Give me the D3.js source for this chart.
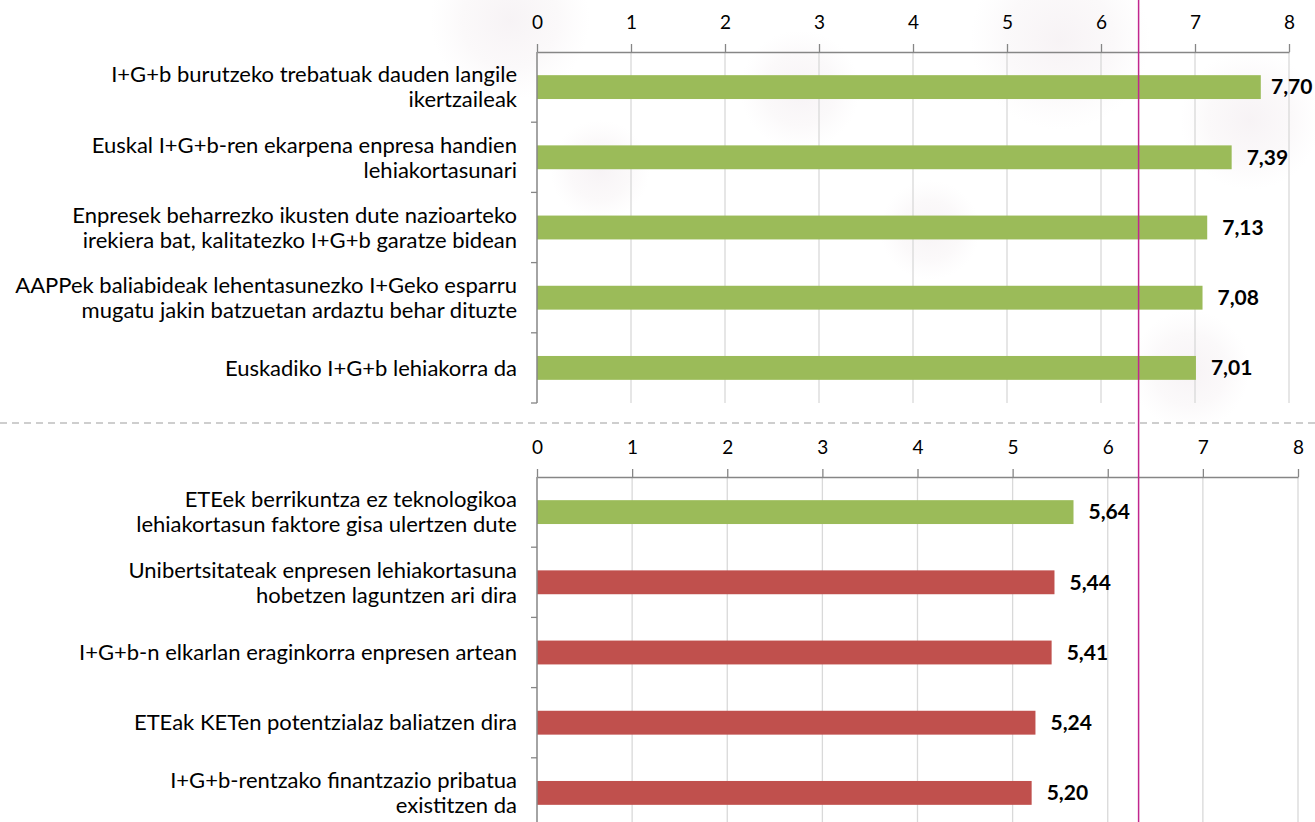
<!DOCTYPE html>
<html><head><meta charset="utf-8">
<script src="https://cdn.jsdelivr.net/npm/d3@7/dist/d3.min.js"></script>
<style>
html,body{margin:0;padding:0;background:#fff;}
svg{display:block;}
text{font-family:Lato,"Open Sans",sans-serif;}
</style></head>
<body><svg id="c" width="1315" height="822"></svg>
<script>
const ticks = [0,1,2,3,4,5,6,7,8];
const topCategories = [
  "I+G+b burutzeko trebatuak dauden langile\nikertzaileak",
  "Euskal I+G+b-ren ekarpena enpresa handien\nlehiakortasunari",
  "Enpresek beharrezko ikusten dute nazioarteko\nirekiera bat, kalitatezko I+G+b garatze bidean",
  "AAPPek baliabideak lehentasunezko I+Geko esparru\nmugatu jakin batzuetan ardaztu behar dituzte",
  "Euskadiko I+G+b lehiakorra da"
];
const topValues = [7.70, 7.39, 7.13, 7.08, 7.01];
const topGroups = ["above","above","above","above","above"];
const bottomCategories = [
  "ETEek berrikuntza ez teknologikoa\nlehiakortasun faktore gisa ulertzen dute",
  "Unibertsitateak enpresen lehiakortasuna\nhobetzen laguntzen ari dira",
  "I+G+b-n elkarlan eraginkorra enpresen artean",
  "ETEak KETen potentzialaz baliatzen dira",
  "I+G+b-rentzako finantzazio pribatua\nexistitzen da"
];
const bottomValues = [5.64, 5.44, 5.41, 5.24, 5.20];
const bottomGroups = ["above","below","below","below","below"];
const referenceValue = 6.40;

const svg = d3.select("#c");
const color = d3.scaleOrdinal().domain(["above","below"]).range(["#9bbb59","#c0504d"]);
const fmt = v => d3.format(".2f")(v).replace(".", ",");

// faint background blobs
const defs = svg.append("defs");
const rg = defs.append("radialGradient").attr("id","blob");
rg.append("stop").attr("offset","0%").attr("stop-color","#f5f0f3").attr("stop-opacity",0.8);
rg.append("stop").attr("offset","60%").attr("stop-color","#f7f3f5").attr("stop-opacity",0.5);
rg.append("stop").attr("offset","100%").attr("stop-color","#f9f6f8").attr("stop-opacity",0);
[[510,20,80],[800,90,60],[1060,40,90],[1250,120,70],[600,170,50],[1190,370,60],[930,230,50]].forEach(b=>{
  svg.append("circle").attr("cx",b[0]).attr("cy",b[1]).attr("r",b[2]).attr("fill","url(#blob)");
});

function panel(cats, vals, groups, axisY, bottomY, xRight, last) {
  const x = d3.scaleLinear().domain([0,8]).range([537, xRight]);
  const y = d3.scaleBand().domain(cats).range([axisY, axisY + 70.2*5]).paddingInner(0.66).paddingOuter(0.33);
  const g = svg.append("g");
  // gridlines
  g.selectAll("line.grid").data(ticks.slice(1)).join("line")
    .attr("x1", d=>x(d)).attr("x2", d=>x(d)).attr("y1", axisY).attr("y2", bottomY)
    .attr("stroke","#d9d9d9").attr("stroke-width",1.3);
  // top axis
  const ax = g.append("g").attr("transform",`translate(0,${axisY})`)
    .call(d3.axisTop(x).tickValues(ticks).tickSize(8).tickSizeOuter(0).tickPadding(15).tickFormat(d3.format("d")));
  ax.select(".domain").attr("stroke","#868686").attr("stroke-width",1.5);
  ax.selectAll(".tick line").attr("stroke","#868686").attr("stroke-width",1.3);
  ax.selectAll(".tick text").attr("fill","#000").attr("font-size",19).attr("font-family","Lato, sans-serif");
  // bars
  g.selectAll("rect.bar").data(vals).join("rect")
    .attr("x", x(0)).attr("y", (d,i)=>y(cats[i]))
    .attr("width", d=>x(d)-x(0)).attr("height", y.bandwidth())
    .attr("fill", (d,i)=>color(groups[i]));
  // value labels
  g.selectAll("text.val").data(vals).join("text")
    .attr("x", d=>Math.min(x(d)+15, 1271)).attr("y", (d,i)=>y(cats[i])+y.bandwidth()/2)
    .attr("dy","0.35em").attr("font-size",21).attr("font-weight","bold").attr("fill","#000")
    .text(d=>fmt(d));
  // left axis
  const band = 70.2;
  g.append("line").attr("x1",537).attr("x2",537).attr("y1",axisY).attr("y2",bottomY)
    .attr("stroke","#868686").attr("stroke-width",1.5);
  const bounds = d3.range(1, last ? 6 : 5).map(i=>axisY + i*band).filter(v=>v<=bottomY+1);
  g.selectAll("line.lt").data(bounds).join("line")
    .attr("x1",531).attr("x2",537).attr("y1",d=>d).attr("y2",d=>d)
    .attr("stroke","#868686").attr("stroke-width",1.3);
  // category labels
  cats.forEach((c,i)=>{
    const lines = c.split("\n");
    const cy = y(c) + y.bandwidth()/2;
    const t = g.append("text").attr("x",517).attr("text-anchor","end").attr("font-size",22).attr("fill","#000");
    lines.forEach((ln,j)=>{
      t.append("tspan").attr("x",517).attr("y", cy + (j - (lines.length-1)/2)*25).attr("dy","0.35em").text(ln);
    });
  });
  return x;
}

const xTop = panel(topCategories, topValues, topGroups, 52, 403, 1289, true);
panel(bottomCategories, bottomValues, bottomGroups, 477, 822, 1298, false);

// dashed separator
svg.append("line").attr("x1",0).attr("x2",1315).attr("y1",423).attr("y2",423)
  .attr("stroke","#bfbfbf").attr("stroke-width",1.5).attr("stroke-dasharray","7,5");

// reference line
svg.append("line").attr("x1",xTop(referenceValue)).attr("x2",xTop(referenceValue)).attr("y1",0).attr("y2",822)
  .attr("stroke","#c1268e").attr("stroke-width",1.5);
</script></body></html>
